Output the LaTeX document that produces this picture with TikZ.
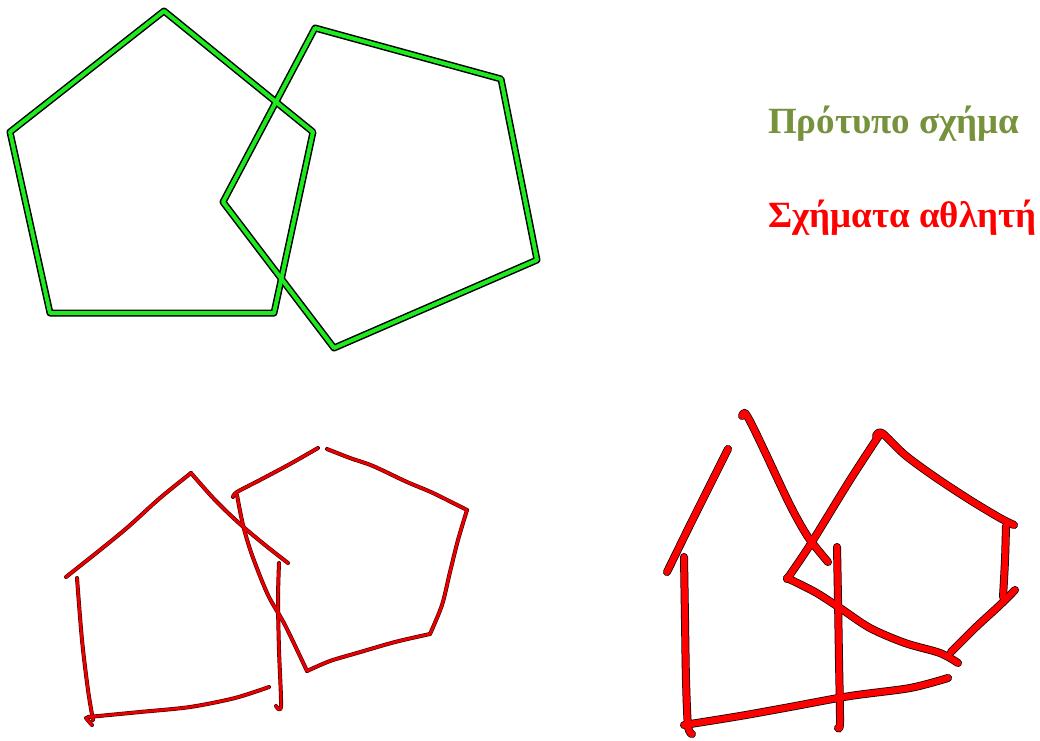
\documentclass[tikz,border=0pt]{standalone}
\usepackage{fontspec}
\setmainfont{Liberation Serif}
\definecolor{olivetxt}{HTML}{76923C}
\definecolor{grn}{HTML}{1EEB1E}
\definecolor{sred}{HTML}{E80000}
\begin{document}
\begin{tikzpicture}[x=1pt,y=-1pt,
  line cap=round, line join=round,
  gout/.style={draw=black, line width=7pt},
  gin/.style={draw=grn, line width=4pt},
  aout/.style={draw=black!75!red, line width=4pt},
  ain/.style={draw=sred, line width=2.8pt},
  bout/.style={draw=black, line width=8pt},
  bin/.style={draw=red, line width=6.5pt},
  lbl/.style={anchor=base west, inner sep=0pt, font=\bfseries\fontsize{37}{44}\selectfont}]
\useasboundingbox[fill=white] (0,0) rectangle (1040,740);

% template pentagons
\foreach \st in {gout,gin}{
  \draw[\st] (164,11) -- (313,132) -- (274,313) -- (50,313) -- (10,132) -- cycle;
  \draw[\st] (315,28) -- (501,79) -- (537,260) -- (334,348) -- (223,202) -- cycle;
}

% athlete sketch 1 (thin)
\foreach \st in {aout,ain}{
  \draw[\st] plot[smooth] coordinates {(66,577) (100,550) (128,527) (160,498) (191,473)};
  \draw[\st] plot[smooth] coordinates {(191,473) (215,500) (240,524) (265,545) (288,563)};
  \draw[\st] plot[smooth] coordinates {(77,578) (82,640) (88,690) (93,720)};
  \draw[\st] (86,718) -- (92,725);
  \draw[\st] plot[smooth] coordinates {(88,717) (140,712) (190,707) (235,698) (269,687)};
  \draw[\st] plot[smooth] coordinates {(279,563) (278,600) (279,650) (281,706) (276,706)};
  \draw[\st] plot[smooth] coordinates {(233,497) (237,492) (260,480) (290,464) (318,448)};
  \draw[\st] plot[smooth] coordinates {(327,449) (350,458) (373,466) (407,482) (433,493) (467,510)};
  \draw[\st] plot[smooth] coordinates {(467,510) (458,540) (450,572) (442,605) (430,634)};
  \draw[\st] plot[smooth] coordinates {(430,634) (395,642) (357,653) (330,661) (307,671)};
  \draw[\st] plot[smooth] coordinates {(307,671) (285,625) (268,595) (252,555) (243,525) (237,495)};
}

% athlete sketch 2 (thick)
\foreach \st in {bout,bin}{
  \draw[\st] plot[smooth] coordinates {(667,572) (690,525) (710,485) (728,449)};
  \draw[\st] plot[smooth] coordinates {(742,416) (745,413) (752,425) (765,452) (790,505) (808,537) (828,562)};
  \draw[\st] plot[smooth] coordinates {(684,557) (685,620) (686,680) (688,726) (692,734)};
  \draw[\st] plot[smooth] coordinates {(684,725) (740,716) (790,707) (850,696) (910,688) (948,678)};
  \draw[\st] plot[smooth] coordinates {(837,547) (838,600) (839,660) (840,722) (838,728)};
  \draw[\st] plot[smooth] coordinates {(787,579) (810,545) (850,480) (880,434)};
  \draw[\st] plot[smooth] coordinates {(876,436) (882,433) (905,455) (935,477) (970,500) (1000,518) (1014,525)};
  \draw[\st] plot[smooth] coordinates {(1006,526) (1005,560) (1003,597)};
  \draw[\st] plot[smooth] coordinates {(1015,590) (1000,605) (975,628) (951,652)};
  \draw[\st] plot[smooth] coordinates {(787,578) (815,592) (840,608) (870,628) (905,643) (940,653) (958,663)};
}

\node[lbl, text=olivetxt] (proto) at (768,133) {Πρότυπο σχήμα};
\node[lbl, text=red] (athl) at (768,227) {Σχήματα αθλητή};
\end{tikzpicture}
\end{document}
